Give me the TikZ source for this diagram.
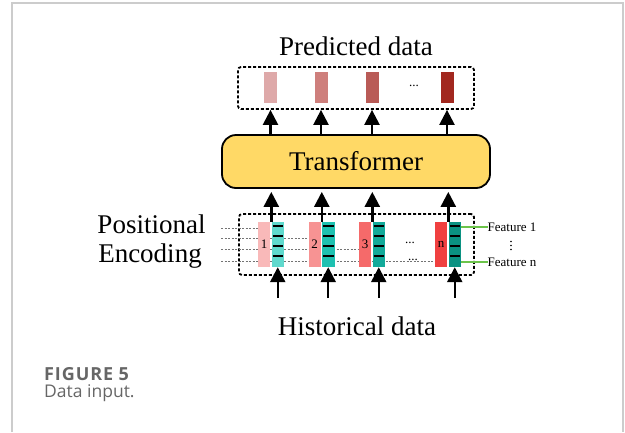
\documentclass[tikz,border=0pt]{standalone}
\usepackage{fontspec}
\setmainfont{Liberation Serif}
\newfontfamily\capfont{Open Sans}
\usetikzlibrary{arrows.meta}
\definecolor{pred1}{HTML}{DEA9A9}
\definecolor{pred2}{HTML}{CE7F7C}
\definecolor{pred3}{HTML}{B95B57}
\definecolor{pred4}{HTML}{A2281F}
\definecolor{pink1}{HTML}{F9B9B9}
\definecolor{pink2}{HTML}{F79393}
\definecolor{pink3}{HTML}{F56A6A}
\definecolor{pink4}{HTML}{F04040}
\definecolor{teal1}{HTML}{5FD9CD}
\definecolor{teal2}{HTML}{1EC1B1}
\definecolor{teal3}{HTML}{12AA9A}
\definecolor{teal4}{HTML}{0B9282}
\definecolor{trfill}{HTML}{FFD966}
\definecolor{framegray}{HTML}{CCCCCC}
\definecolor{capgray}{HTML}{666666}
\definecolor{featgreen}{HTML}{6CC44A}
\tikzset{
  bigtext/.style={inner sep=0pt, font=\fontsize{27}{30}\selectfont},
  smalltext/.style={inner sep=0pt, font=\fontsize{13}{15}\selectfont},
  dbox/.style={draw=black, line width=1.8pt, dash pattern=on 3pt off 2pt, rounded corners=3pt, inner sep=0pt},
  predbar/.style={inner sep=0pt, minimum width=13pt, minimum height=31pt},
  pinkbar/.style={inner sep=0pt, minimum width=12pt, minimum height=45pt, font=\fontsize{13}{15}\selectfont},
  tealbar/.style={inner sep=0pt, minimum width=12.5pt, minimum height=45pt,
    path picture={\foreach \yy in {4,14,24,34}{\draw[line width=1.4pt, black]
      ([xshift=1pt,yshift=-\yy pt]path picture bounding box.north west) --
      ([xshift=-1pt,yshift=-\yy pt]path picture bounding box.north east);}}},
  arr/.style={line width=2.4pt, -{Triangle[width=15pt 0 1,length=15pt 0 1]}},
  peline/.style={gray!90!black, line width=0.9pt, dash pattern=on 2pt off 1.5pt},
  featline/.style={featgreen, line width=1.2pt},
  captext/.style={inner sep=0pt, text=capgray, anchor=base west}
}
\begin{document}
\begin{tikzpicture}[x=1pt,y=-1pt]
\useasboundingbox (0,0) rectangle (625,432);
% frame
\draw[framegray, line width=1.2pt] (12,432) -- (12,3) -- (623,3) -- (623,432);

% titles
\node[bigtext, anchor=base] (predlab) at (356,55) {Predicted data};
\node[bigtext, anchor=base] (histlab) at (357,335) {Historical data};
\node[bigtext, anchor=base] (poslab) at (151.5,233) {Positional};
\node[bigtext, anchor=base] (enclab) at (150,262) {Encoding};

% output box
\node[dbox, minimum width=236pt, minimum height=42pt] (outbox) at (356,88) {};
\node[predbar, fill=pred1] (p1) at (270.5,87.5) {};
\node[predbar, fill=pred2] (p2) at (321,87.5) {};
\node[predbar, fill=pred3] (p3) at (372,87.5) {};
\node[predbar, fill=pred4] (p4) at (447,87.5) {};
\node[smalltext] (pdots) at (414,86) {...};

% transformer
\node[draw=black, line width=1.8pt, fill=trfill, rounded corners=14pt,
      minimum width=268pt, minimum height=53pt, inner sep=0pt,
      font=\fontsize{27}{30}\selectfont] (tr) at (356,161.5) {Transformer};

% positional encoding dotted lines
\coordinate (pe1) at (221,228);
\coordinate (pe2) at (221,238.5);
\coordinate (pe3) at (221,249.5);
\coordinate (pe4) at (221,261);

% input box
\node[dbox, minimum width=235pt, minimum height=61pt] (inbox) at (356.5,244.5) {};

% pink bar positions
\coordinate (c1) at (264,244.5);
\coordinate (c2) at (314.5,244.5);
\coordinate (c3) at (365,244.5);
\coordinate (c4) at (441,244.5);

\draw[peline] (pe1) -- (pe1 -| 258,0);
\draw[peline] (pe2) -- (pe2 -| 308.5,0);
\draw[peline] (pe3) -- (pe3 -| 359,0);
\draw[peline] (pe4) -- (pe4 -| 435,0);

% pink bars (positions)
\node[pinkbar, fill=pink1] (q1) at (c1) {1};
\node[pinkbar, fill=pink2] (q2) at (c2) {2};
\node[pinkbar, fill=pink3] (q3) at (c3) {3};
\node[pinkbar, fill=pink4] (q4) at (c4) {n};

% teal bars (features)
\node[tealbar, fill=teal1] (t1) at (277.75,244.5) {};
\node[tealbar, fill=teal2] (t2) at (328.25,244.5) {};
\node[tealbar, fill=teal3] (t3) at (378.75,244.5) {};
\node[tealbar, fill=teal4] (t4) at (454.75,244.5) {};

\node[smalltext] (idots) at (410,243) {...};
\node[smalltext, fill=white, inner xsep=1pt] (ldots) at (413,259.5) {...};

% features
\node[smalltext, anchor=west] (f1) at (487.5,227) {Feature 1};
\node[smalltext, anchor=west] (fn) at (487.5,262) {Feature n};
\coordinate (vd) at (511,245.5);
\foreach \dy in {-4,0,4}{
  \fill ([yshift=\dy pt]vd) circle (0.8pt);
}
\draw[featline] (f1.west -| t4.east) -- (f1.west);
\draw[featline] (fn.west -| t4.east) -- (fn.west);

% arrows transformer -> output
\foreach \i in {1,...,4}{
  \draw[arr] (tr.north -| p\i) -- (outbox.south -| p\i);
}
% arrows input -> transformer
\foreach \i in {1,...,4}{
  \draw[arr, shorten >=3pt] (t\i.north west) -- (tr.south -| t\i.north west);
}
% arrows historical -> input
\coordinate (h1) at (277.75,298);
\coordinate (h2) at (328.25,298);
\coordinate (h3) at (378.75,298);
\coordinate (h4) at (454.75,298);
\foreach \i in {1,...,4}{
  \draw[arr] (h\i) -- (t\i.south);
}

% caption
\node[captext, font=\capfont\bfseries\fontsize{18}{20}\selectfont\addfontfeatures{LetterSpace=5}] (figlab) at (44,380) {FIGURE 5};
\node[captext, font=\capfont\fontsize{17.5}{20}\selectfont] (figcap) at (44,397) {Data input.};
\end{tikzpicture}
\end{document}
